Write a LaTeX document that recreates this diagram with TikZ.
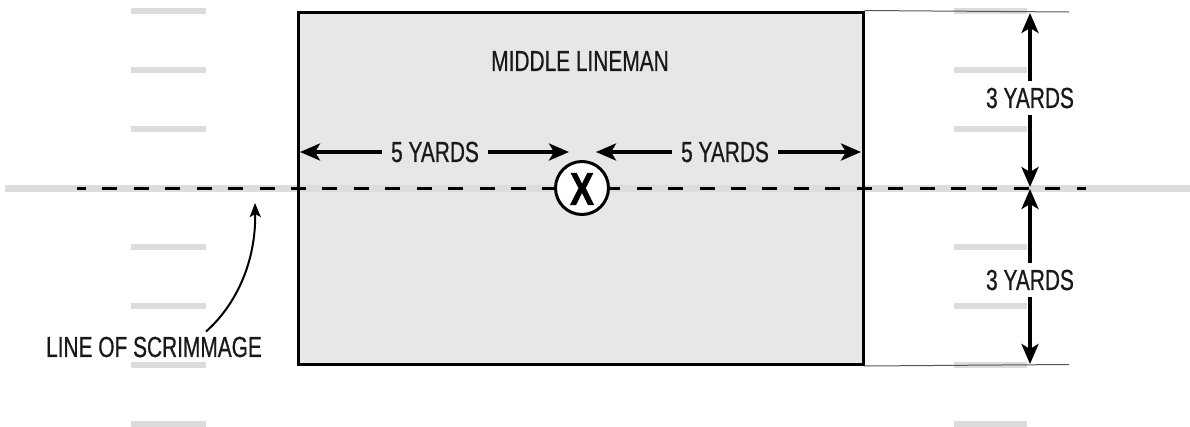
\documentclass[tikz,border=0pt]{standalone}
\usepackage{fontspec}
\setmainfont{Liberation Sans}
\newfontfamily\condfont[FakeStretch=0.72,FakeBold=0.6]{Liberation Sans}
\newfontfamily\condbold[FakeStretch=0.78,FakeBold=1.2]{Liberation Sans Bold}
\usetikzlibrary{arrows.meta}
\definecolor{boxfill}{HTML}{E6E7E8}
\definecolor{fieldgray}{HTML}{DCDCDC}
\definecolor{thingray}{HTML}{555555}
\tikzset{
  lbl/.style={font=\condfont\fontsize{29}{30}\selectfont, text=black!90, inner xsep=9pt, inner ysep=7pt},
  dimarrow/.style={line width=3.5pt, -{Stealth[length=20pt,width=17pt,inset=5pt]}},
  hashmark/.style={draw=fieldgray, line width=6pt},
  thinline/.style={draw=thingray, line width=1pt},
}
\begin{document}
\begin{tikzpicture}[x=1pt,y=-1pt]
\useasboundingbox (0,0) rectangle (1190,426);
% hash marks
\foreach \yy in {11,70,129,247,306,365,424}{
  \draw[hashmark] (131,\yy) -- (206,\yy);
  \draw[hashmark] (954,\yy) -- (1027,\yy);
}
% box fill
\fill[boxfill] (298,12) rectangle (863,364.5);
% field line
\draw[draw=fieldgray, line width=7pt] (5,188) -- (1190,188);
% box border
\node[draw=black, line width=3pt, minimum width=565pt, minimum height=352.5pt, inner sep=0pt] (box) at (580.5,188.25) {};
% thin extension lines
\coordinate (topend) at (1069,12);
\coordinate (botend) at (1069,364.5);
\draw[thinline] (box.north east) -- (topend);
\draw[thinline] (box.south east) -- (botend);
% dashed line of scrimmage
\coordinate (dashstart) at (77,188);
\coordinate (dashend) at (1086,188);
\draw[line width=3pt, dash pattern=on 15pt off 16.43pt, dash phase=6pt] (dashstart) -- (dashend);
% player
\node[circle, draw=black, fill=white, line width=3pt, minimum size=53pt, inner sep=0pt] (player) at (582,188) {};
\node[font=\condbold\fontsize{46}{46}\selectfont, inner sep=0pt] (xmark) at (582,189) {X};
% labels
\node[lbl] (title) at (580,61) {MIDDLE LINEMAN};
\node[lbl] (lefty) at (435,152) {5 YARDS};
\node[lbl] (righty) at (725,152) {5 YARDS};
\node[lbl, inner ysep=7pt] (upy) at (1030,98) {3 YARDS};
\node[lbl, inner ysep=7pt] (downy) at (1030,280) {3 YARDS};
\node[lbl, inner sep=0pt] (los) at (154,347) {LINE OF SCRIMMAGE};
% arrow end points
\coordinate (lefttip) at (300,152);
\coordinate (midltip) at (569,152);
\coordinate (midrtip) at (596,152);
\coordinate (righttip) at (861,152);
\coordinate (uptip) at (1030,13);
\coordinate (midtip1) at (1030,187);
\coordinate (midtip2) at (1030,189);
\coordinate (downtip) at (1030,364);
\coordinate (curvetip) at (255,203);
% dimension arrows
\draw[dimarrow] (lefty.west) -- (lefttip);
\draw[dimarrow] (lefty.east) -- (midltip);
\draw[dimarrow] (righty.west) -- (midrtip);
\draw[dimarrow] (righty.east) -- (righttip);
\draw[dimarrow] (upy.north) -- (uptip);
\draw[dimarrow] (upy.south) -- (midtip1);
\draw[dimarrow] (downy.north) -- (midtip2);
\draw[dimarrow] (downy.south) -- (downtip);
% curved arrow
\draw[line width=2pt, -{Stealth[length=14pt,width=11pt,inset=3pt]}] ([xshift=52pt,yshift=5pt]los.north) .. controls (236,305) and (256,262) .. (curvetip);
\end{tikzpicture}
\end{document}
